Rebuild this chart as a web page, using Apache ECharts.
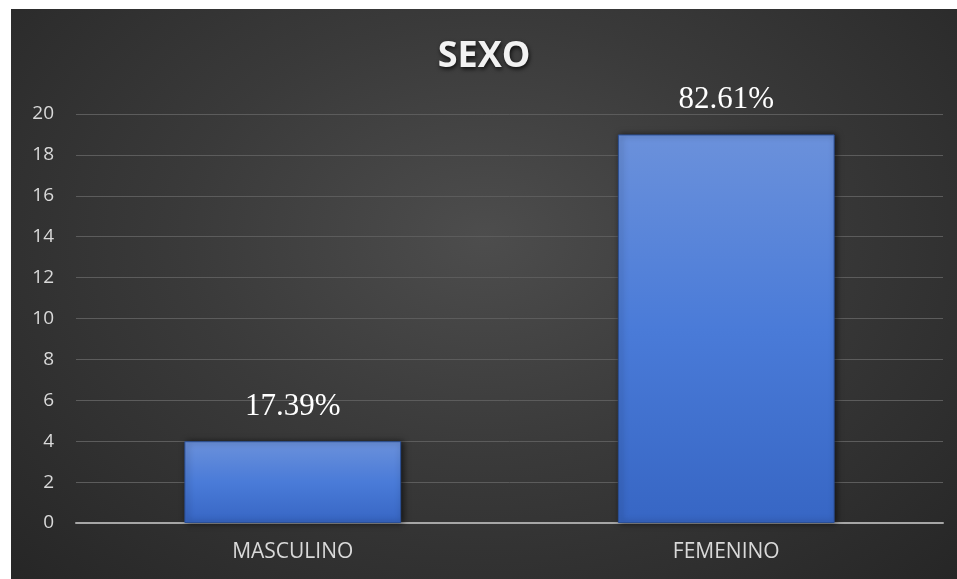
<!DOCTYPE html>
<html>
<head>
<meta charset="utf-8">
<script src="https://cdn.jsdelivr.net/npm/echarts@6/dist/echarts.min.js"></script>
<style>
  html, body { margin: 0; padding: 0; background: #ffffff; }
  #diogram {
    position: absolute; left: 11px; top: 9px; width: 946px; height: 570px;
    background: radial-gradient(ellipse at 50% 40%, #4d4d4d 0%, #3a3a3a 45%, #262626 100%);
  }
</style>
</head>
<body>
<div id="diogram"></div>
<script>
let categories = ['MASCULINO', 'FEMENINO'];
let counts = [4, 19];
let percents = ['17.39%', '82.61%'];

let myDiogram = echarts.init(document.getElementById("diogram"));

let option = {
    backgroundColor: 'transparent',
    title: {
        text: 'SEXO',
        left: 'center',
        top: 25,
        textStyle: {
            color: '#f2f2f2',
            fontFamily: 'Open Sans',
            fontWeight: 'bold',
            fontSize: 36,
            textShadowColor: 'rgba(0,0,0,0.8)',
            textShadowBlur: 4,
            textShadowOffsetX: 1,
            textShadowOffsetY: 2
        }
    },
    grid: {
        left: 65,
        right: 14,
        top: 105,
        bottom: 56
    },
    xAxis: {
        type: 'category',
        data: categories,
        axisTick: { show: false },
        axisLine: { lineStyle: { color: '#a6a6a6', width: 2 } },
        axisLabel: {
            color: '#d9d9d9',
            fontFamily: 'Open Sans',
            fontSize: 21,
            margin: 19
        }
    },
    yAxis: {
        type: 'value',
        min: 0,
        max: 20,
        interval: 2,
        axisLine: { show: false },
        axisTick: { show: false },
        splitLine: { lineStyle: { color: '#5c5c5c', width: 1 } },
        axisLabel: {
            color: '#d9d9d9',
            fontFamily: 'Open Sans',
            fontSize: 19,
            margin: 22
        }
    },
    series: [
        {
            name: 'SEXO',
            type: 'bar',
            data: counts,
            barWidth: '50%',
            itemStyle: {
                color: new echarts.graphic.LinearGradient(0, 0, 0, 1, [
                    { offset: 0, color: '#6b91db' },
                    { offset: 0.5, color: '#4a7bd8' },
                    { offset: 1, color: '#3766c4' }
                ]),
                borderColor: '#2b4f95',
                borderWidth: 1,
                shadowColor: 'rgba(0,0,0,0.6)',
                shadowBlur: 6,
                shadowOffsetX: 2,
                shadowOffsetY: 0
            },
            label: {
                show: true,
                position: 'top',
                distance: 19,
                color: '#ffffff',
                fontFamily: 'Liberation Serif',
                fontSize: 31,
                formatter: function (p) { return percents[p.dataIndex]; }
            }
        }
    ]
};

myDiogram.setOption(option);
</script>
</body>
</html>
